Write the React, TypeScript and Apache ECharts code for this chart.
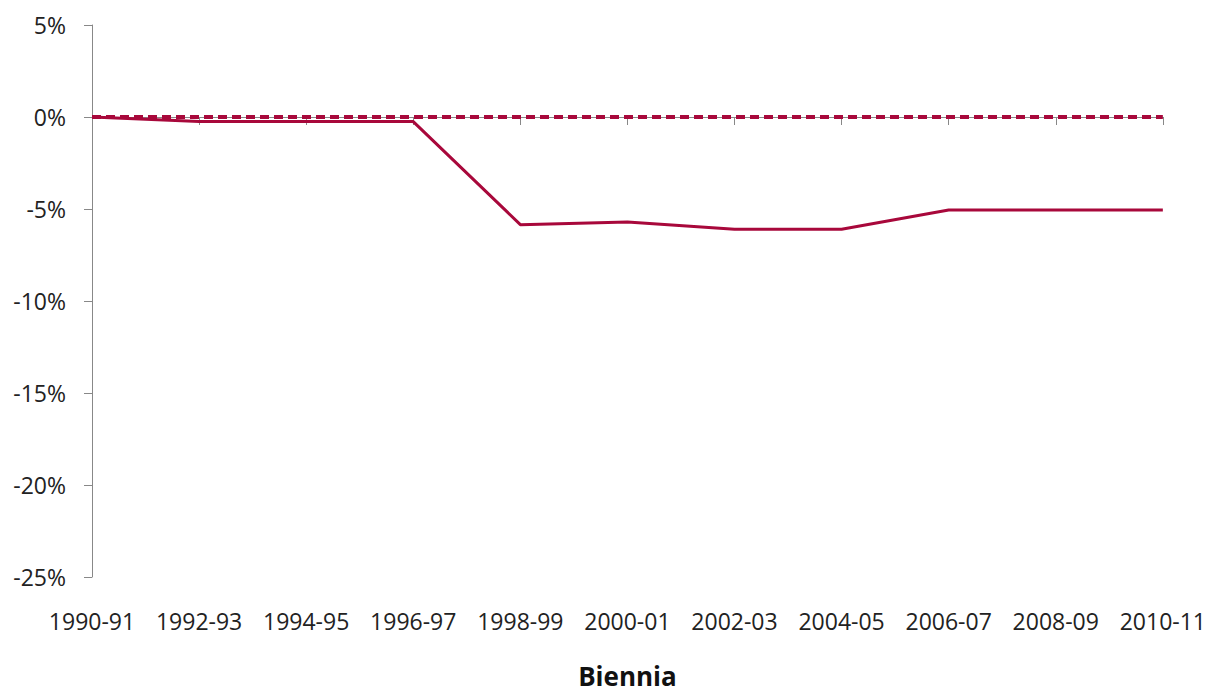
import React, { useEffect, useRef } from "react";
import * as echarts from "echarts";

const categories = ["1990-91", "1992-93", "1994-95", "1996-97", "1998-99", "2000-01", "2002-03", "2004-05", "2006-07", "2008-09", "2010-11"];
const actualChange = [0, -0.25, -0.25, -0.25, -5.85, -5.7, -6.1, -6.1, -5.05, -5.05, -5.05];
const baseline = [0, 0, 0, 0, 0, 0, 0, 0, 0, 0, 0];
const yTicks = { min: -25, max: 5, interval: 5 };

export default function App() {
  const ref = useRef<HTMLDivElement>(null);
  useEffect(() => {
    document.documentElement.style.overflow = "hidden";
    document.body.style.margin = "0";
    document.body.style.overflow = "hidden";
    const chart = echarts.init(ref.current!, null, { renderer: "svg" });
    const color = "#A8083B";
    chart.setOption({
      animation: false,
      grid: { left: 92, right: 45, top: 25, bottom: 111, containLabel: false },
      xAxis: {
        type: "category",
        data: categories,
        boundaryGap: false,
        name: "Biennia",
        nameLocation: "middle",
        nameGap: 86,
        nameTextStyle: { fontFamily: "Open Sans", fontSize: 26, fontWeight: "bold", color: "#111" },
        axisLine: { lineStyle: { color: "#888", width: 1 } },
        axisTick: { show: true, interval: 0, alignWithLabel: true, length: 8, lineStyle: { color: "#888" } },
        axisLabel: { interval: 0, hideOverlap: false, fontFamily: "Open Sans", fontSize: 23, color: "#222", margin: 32 },
        splitLine: { show: false },
      },
      yAxis: {
        type: "value",
        min: yTicks.min,
        max: yTicks.max,
        interval: yTicks.interval,
        axisLine: { show: true, lineStyle: { color: "#888", width: 1 } },
        axisTick: { show: true, length: 8, lineStyle: { color: "#888" } },
        axisLabel: { fontFamily: "Open Sans", fontSize: 23, color: "#222", margin: 26, formatter: (v: number) => `${v}%` },
        splitLine: { show: false },
      },
      series: [
        {
          type: "line",
          data: baseline,
          symbol: "none",
          lineStyle: { color, width: 4, type: [9, 5] },
          z: 2,
        },
        {
          type: "line",
          data: actualChange,
          symbol: "none",
          lineStyle: { color, width: 3 },
          z: 3,
        },
      ],
    });
    return () => chart.dispose();
  }, []);
  return <div ref={ref} style={{ position: "absolute", left: 0, top: 0, width: 1209, height: 694, overflow: "hidden" }} />;
}
